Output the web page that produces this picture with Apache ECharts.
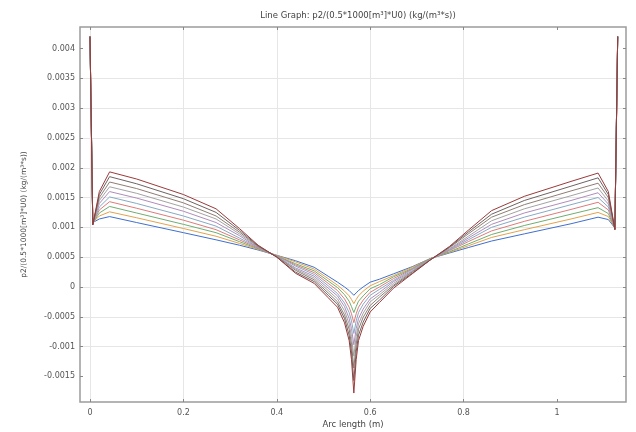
<!DOCTYPE html>
<html>
<head>
<meta charset="utf-8">
<script src="https://cdn.jsdelivr.net/npm/echarts@6/dist/echarts.min.js"></script>
<style>
html,body{margin:0;padding:0;background:#fff;}
#c{width:636px;height:432px;}
</style>
</head>
<body>
<div id="c"></div>
<script>
// Arc length positions (m)
const arcLength = [0, 0.006, 0.02, 0.042, 0.1, 0.2, 0.27, 0.32, 0.36, 0.4, 0.44, 0.48, 0.51, 0.53, 0.545, 0.555, 0.56, 0.565, 0.57, 0.575, 0.585, 0.6, 0.62, 0.65, 0.69, 0.73, 0.77, 0.81, 0.86, 0.93, 1.03, 1.088, 1.11, 1.124, 1.13];

// Curves, from the flattest (blue) to the most extreme
const curve1  = [0.0042, 0.00108, 0.00114, 0.00118, 0.00108, 0.00091, 0.00079, 0.00070, 0.00062, 0.00053, 0.00044, 0.00033, 0.00018, 0.00008, 0.00000, -0.00006, -0.00010, -0.00014, -0.00010, -0.00006, 0.00000, 0.00008, 0.00013, 0.00022, 0.00034, 0.00048, 0.00057, 0.00066, 0.00077, 0.00089, 0.00106, 0.00117, 0.00113, 0.00099, 0.0042];
const curve2  = [0.0042, 0.00108, 0.00119, 0.00126, 0.00116, 0.00098, 0.00085, 0.00073, 0.00063, 0.00053, 0.00042, 0.00030, 0.00014, 0.00003, -0.00007, -0.00015, -0.00021, -0.00028, -0.00021, -0.00015, -0.00007, 0.00002, 0.00009, 0.00019, 0.00033, 0.00048, 0.00058, 0.00069, 0.00083, 0.00096, 0.00114, 0.00125, 0.00118, 0.00099, 0.0042];
const curve3  = [0.0042, 0.00107, 0.00124, 0.00135, 0.00124, 0.00105, 0.00091, 0.00076, 0.00064, 0.00052, 0.00039, 0.00027, 0.00010, -0.00001, -0.00013, -0.00024, -0.00033, -0.00043, -0.00033, -0.00024, -0.00015, -0.00003, 0.00004, 0.00017, 0.00031, 0.00048, 0.00059, 0.00072, 0.00088, 0.00103, 0.00122, 0.00133, 0.00123, 0.00098, 0.0042];
const curve4  = [0.0042, 0.00107, 0.00129, 0.00143, 0.00132, 0.00112, 0.00096, 0.00079, 0.00065, 0.00052, 0.00037, 0.00024, 0.00006, -0.00006, -0.00020, -0.00034, -0.00045, -0.00060, -0.00045, -0.00034, -0.00022, -0.00009, 0.00000, 0.00014, 0.00030, 0.00047, 0.00061, 0.00076, 0.00094, 0.00110, 0.00130, 0.00142, 0.00129, 0.00098, 0.0042];
const curve5  = [0.0042, 0.00106, 0.00134, 0.00151, 0.00140, 0.00119, 0.00102, 0.00082, 0.00066, 0.00052, 0.00035, 0.00021, 0.00002, -0.00011, -0.00027, -0.00043, -0.00057, -0.00078, -0.00057, -0.00043, -0.00029, -0.00014, -0.00004, 0.00011, 0.00029, 0.00047, 0.00062, 0.00079, 0.00100, 0.00117, 0.00138, 0.00150, 0.00134, 0.00098, 0.0042];
const curve6  = [0.0042, 0.00106, 0.00140, 0.00160, 0.00149, 0.00127, 0.00108, 0.00086, 0.00066, 0.00051, 0.00032, 0.00018, -0.00002, -0.00015, -0.00033, -0.00053, -0.00070, -0.00097, -0.00070, -0.00053, -0.00037, -0.00020, -0.00009, 0.00009, 0.00027, 0.00047, 0.00063, 0.00082, 0.00105, 0.00124, 0.00145, 0.00158, 0.00139, 0.00097, 0.0042];
const curve7  = [0.0042, 0.00105, 0.00145, 0.00168, 0.00157, 0.00134, 0.00114, 0.00089, 0.00067, 0.00051, 0.00030, 0.00015, -0.00006, -0.00020, -0.00040, -0.00062, -0.00083, -0.00116, -0.00083, -0.00062, -0.00044, -0.00025, -0.00013, 0.00006, 0.00026, 0.00047, 0.00064, 0.00085, 0.00111, 0.00131, 0.00153, 0.00166, 0.00144, 0.00097, 0.0042];
const curve8  = [0.0042, 0.00105, 0.00150, 0.00176, 0.00165, 0.00141, 0.00119, 0.00092, 0.00068, 0.00051, 0.00028, 0.00012, -0.00010, -0.00025, -0.00047, -0.00071, -0.00096, -0.00136, -0.00096, -0.00071, -0.00051, -0.00031, -0.00017, 0.00003, 0.00025, 0.00046, 0.00066, 0.00089, 0.00117, 0.00138, 0.00161, 0.00174, 0.00150, 0.00097, 0.0042];
const curve9  = [0.0042, 0.00104, 0.00155, 0.00185, 0.00173, 0.00148, 0.00125, 0.00095, 0.00069, 0.00050, 0.00025, 0.00009, -0.00014, -0.00029, -0.00053, -0.00081, -0.00109, -0.00157, -0.00109, -0.00081, -0.00059, -0.00036, -0.00022, 0.00001, 0.00023, 0.00046, 0.00067, 0.00092, 0.00122, 0.00145, 0.00169, 0.00183, 0.00155, 0.00096, 0.0042];
const curve10 = [0.0042, 0.00104, 0.00160, 0.00193, 0.00181, 0.00155, 0.00131, 0.00098, 0.00070, 0.00050, 0.00023, 0.00006, -0.00018, -0.00034, -0.00060, -0.00090, -0.00122, -0.00178, -0.00122, -0.00090, -0.00066, -0.00042, -0.00026, -0.00002, 0.00022, 0.00046, 0.00068, 0.00095, 0.00128, 0.00152, 0.00177, 0.00191, 0.00160, 0.00096, 0.0042];

const curves = [curve1, curve2, curve3, curve4, curve5, curve6, curve7, curve8, curve9, curve10];
const curveColors = ['#3f6fd0', '#e3a24e', '#6fae6f', '#de7b7b', '#86aac4', '#b08cbc', '#a3a3a3', '#8f7d72', '#6f6262', '#9a3a3a'];

// Tick labels
const xTicks = [0, 0.2, 0.4, 0.6, 0.8, 1];
const yTicks = [-0.0015, -0.001, -0.0005, 0, 0.0005, 0.001, 0.0015, 0.002, 0.0025, 0.003, 0.0035, 0.004];

const fmt = v => String(+(+v).toFixed(4));
const labelStyle = {color: '#555', fontSize: 8, fontFamily: 'DejaVu Sans'};
const gridLineColor = '#e6e6e6';

const chart = echarts.init(document.getElementById('c'), null, {renderer: 'canvas'});

const series = curves.map((c, i) => ({
  type: 'line',
  xAxisIndex: 0,
  yAxisIndex: 0,
  data: arcLength.map((x, j) => [x, c[j]]),
  showSymbol: false,
  symbol: 'none',
  lineStyle: {width: 1, color: curveColors[i]},
  itemStyle: {color: curveColors[i]},
  z: 3 + i
}));

chart.setOption({
  animation: false,
  backgroundColor: '#fff',
  title: {
    text: 'Line Graph: p2/(0.5*1000[m³]*U0) (kg/(m³*s))',
    left: 353,
    textAlign: 'center',
    top: 6,
    textStyle: {fontSize: 8.5, fontWeight: 'normal', color: '#444', fontFamily: 'DejaVu Sans'}
  },
  grid: [
    {left: 80, top: 27, width: 546, height: 375, show: true, borderColor: '#9c9c9c', borderWidth: 1.5, backgroundColor: 'transparent', outerBoundsMode: 'none', containLabel: false},
    {left: 90, top: 27, width: 560.4, height: 375, outerBoundsMode: 'none', containLabel: false},
    {left: 80, top: 18.8, width: 546, height: 387.4, outerBoundsMode: 'none', containLabel: false}
  ],
  xAxis: [
    {
      gridIndex: 0, type: 'value', min: -0.0214, max: 1.1478,
      axisLine: {show: false}, axisTick: {show: false}, axisLabel: {show: false}, splitLine: {show: false},
      name: 'Arc length (m)', nameLocation: 'middle', nameGap: 18,
      nameTextStyle: {color: '#444', fontSize: 8.5, fontFamily: 'DejaVu Sans'}
    },
    {
      gridIndex: 1, type: 'value', min: 0, max: 1.2, interval: 0.2, position: 'bottom',
      axisLine: {show: false},
      axisTick: {show: true, inside: true, length: 3, lineStyle: {color: '#888'}, customValues: xTicks},
      axisLabel: Object.assign({margin: 7, customValues: xTicks, formatter: fmt}, labelStyle),
      splitLine: {show: true, showMinLine: true, showMaxLine: false, lineStyle: {color: gridLineColor, width: 1}}
    },
    {
      gridIndex: 1, type: 'value', min: 0, max: 1.2, interval: 0.2, position: 'top',
      axisLine: {show: false},
      axisTick: {show: true, inside: true, length: 3, lineStyle: {color: '#888'}, customValues: xTicks},
      axisLabel: {show: false}, splitLine: {show: false}
    },
    {gridIndex: 2, type: 'value', min: 0, max: 1, show: false}
  ],
  yAxis: [
    {
      gridIndex: 0, type: 'value', min: -0.00193, max: 0.00436,
      axisLine: {show: false}, axisTick: {show: false}, axisLabel: {show: false}, splitLine: {show: false},
      name: 'p2/(0.5*1000[m³]*U0) (kg/(m³*s))', nameLocation: 'middle', nameGap: 52, nameRotate: 90,
      nameTextStyle: {color: '#444', fontSize: 7.5, fontFamily: 'DejaVu Sans'}
    },
    {gridIndex: 1, type: 'value', min: 0, max: 1, show: false},
    {
      gridIndex: 2, type: 'value', min: -0.002, max: 0.0045, interval: 0.0005, position: 'left',
      axisLine: {show: false},
      axisTick: {show: true, inside: true, length: 3, lineStyle: {color: '#888'}, customValues: yTicks},
      axisLabel: Object.assign({margin: 5, customValues: yTicks, formatter: fmt}, labelStyle),
      splitLine: {show: true, showMinLine: false, showMaxLine: false, lineStyle: {color: gridLineColor, width: 1}}
    },
    {
      gridIndex: 2, type: 'value', min: -0.002, max: 0.0045, interval: 0.0005, position: 'right',
      axisLine: {show: false},
      axisTick: {show: true, inside: true, length: 3, lineStyle: {color: '#888'}, customValues: yTicks},
      axisLabel: {show: false}, splitLine: {show: false}
    }
  ],
  series: series
});
</script>
</body>
</html>
